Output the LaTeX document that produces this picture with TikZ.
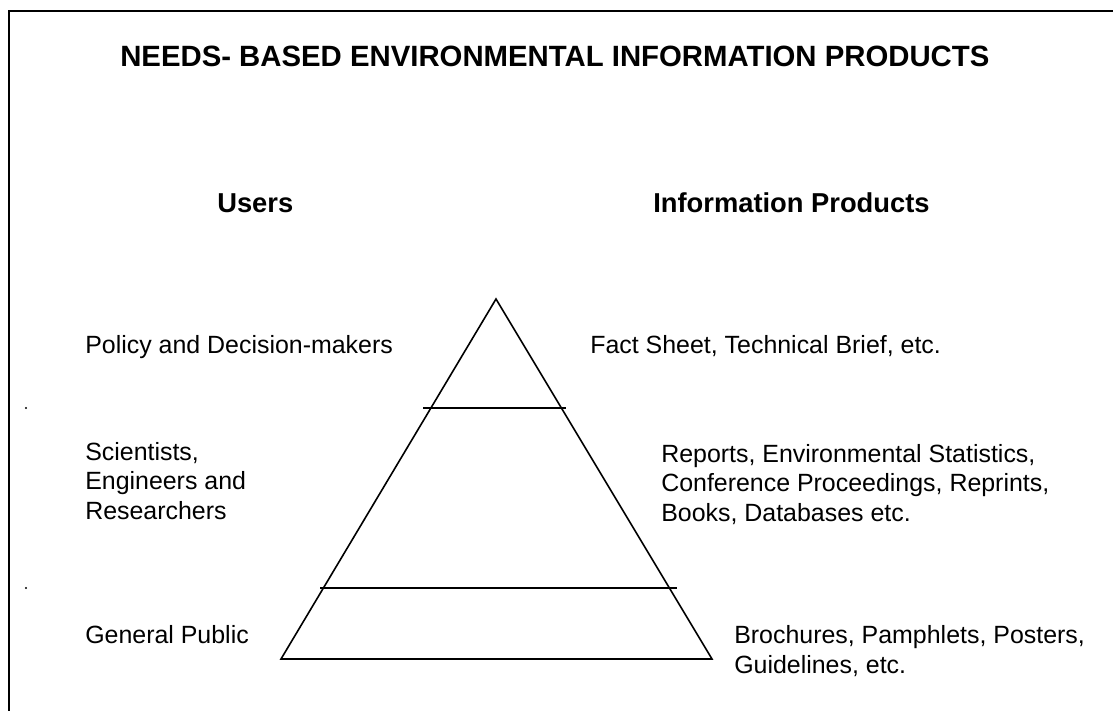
\documentclass[tikz,border=0pt]{standalone}
\usepackage{fontspec}
\setmainfont{Liberation Sans}
\usetikzlibrary{positioning}

\begin{document}
\begin{tikzpicture}[x=0.75pt, y=-0.75pt,
  txt/.style={anchor=base west, inner sep=0pt, align=left, font=\fontsize{18.7}{22}\selectfont},
  head/.style={anchor=base west, inner sep=0pt, font=\fontsize{20.5}{24}\selectfont\bfseries},
  tier/.style={line width=1.2pt, line join=miter},
  speck/.style={circle, fill=black, inner sep=0pt, minimum size=1.6pt}]
  \useasboundingbox (0,0) rectangle (1113,710);

  % Frame
  \draw[line width=2.2pt] (9,712) -- (9,11) -- (1116,11);

  % Title
  \node[head, font=\fontsize{22}{26}\selectfont\bfseries] (title) at (120,66) {NEEDS- BASED ENVIRONMENTAL INFORMATION PRODUCTS};

  % Column heads
  \node[head] (users) at (217,212) {Users};
  \node[head] (products) at (653,212) {Information Products};

  % Pyramid
  \coordinate (apex) at (496,299);
  \coordinate (baseL) at (281,659);
  \coordinate (baseR) at (712,659);
  \draw[tier] (apex) -- (baseL) -- (baseR) -- cycle;
  \coordinate (cutAL) at (423,408);
  \coordinate (cutAR) at (566,408);
  \coordinate (cutBL) at (320,588);
  \coordinate (cutBR) at (677,588);
  \draw[tier] (cutAL) -- (cutAR);
  \draw[tier] (cutBL) -- (cutBR);
  \node[speck] (speckA) at (26,408) {};
  \node[speck] (speckB) at (26,588) {};

  % Users (multi-line nodes sit on their last line)
  \node[txt] (policy) at (85,353) {Policy and Decision-makers};
  \node[txt] (science) at (85,519) {Scientists,\\Engineers and\\Researchers};
  \node[txt] (public) at (85,643) {General Public};

  % Products
  \node[txt] (facts) at (590,353) {Fact Sheet, Technical Brief, etc.};
  \node[txt] (reports) at (661,521) {Reports, Environmental Statistics,\\Conference Proceedings, Reprints,\\Books, Databases etc.};
  \node[txt] (brochures) at (734,673) {Brochures, Pamphlets, Posters,\\Guidelines, etc.};
\end{tikzpicture}
\end{document}
